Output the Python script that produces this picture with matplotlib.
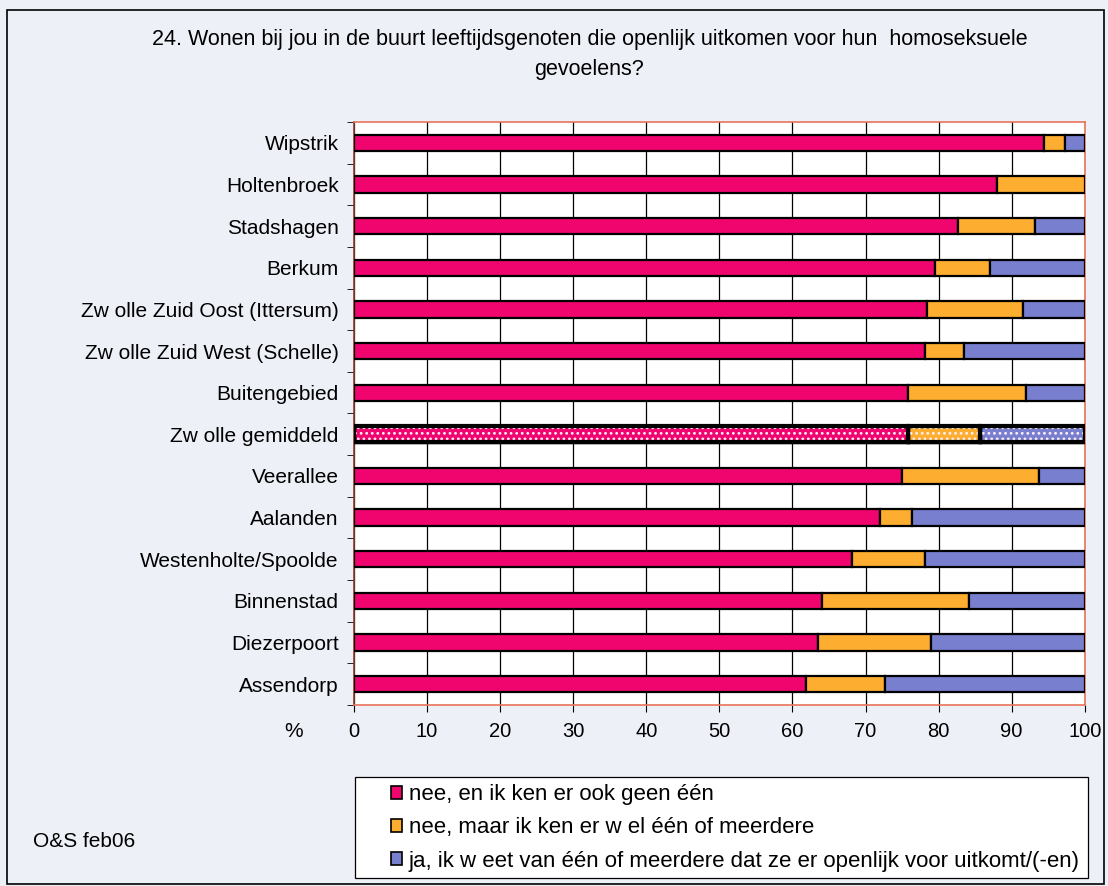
import numpy as np
import matplotlib.pyplot as plt
from matplotlib.patches import Rectangle

plt.rcParams['font.family'] = ['Liberation Sans', 'DejaVu Sans']

# Data (percentages, top to bottom)
areas = ['Wipstrik', 'Holtenbroek', 'Stadshagen', 'Berkum',
         'Zw olle Zuid Oost (Ittersum)', 'Zw olle Zuid West (Schelle)',
         'Buitengebied', 'Zw olle gemiddeld', 'Veerallee', 'Aalanden',
         'Westenholte/Spoolde', 'Binnenstad', 'Diezerpoort', 'Assendorp']
nee_geen = [94.4, 88.0, 82.7, 79.5, 78.4, 78.1, 75.8, 75.8, 75.0, 72.0, 68.2, 64.1, 63.5, 61.9]
nee_wel = [2.9, 12.0, 10.5, 7.6, 13.2, 5.4, 16.2, 9.9, 18.7, 4.4, 10.0, 20.1, 15.4, 10.7]
ja = [2.7, 0.0, 6.8, 12.9, 8.4, 16.5, 8.0, 14.3, 6.3, 23.6, 21.8, 15.8, 21.1, 27.4]
series_labels = ['nee, en ik ken er ook geen één',
                 'nee, maar ik ken er w el één of meerdere',
                 'ja, ik w eet van één of meerdere dat ze er openlijk voor uitkomt/(-en)']
colors = ['#F0046E', '#FDAD2F', '#787FCF']
highlight = 'Zw olle gemiddeld'

bg = '#EEF0F8'
fig = plt.figure(figsize=(11.08, 8.86), dpi=100, facecolor=bg)
fig.patches.append(Rectangle((0.0063, 0.002), 0.99, 0.9867, transform=fig.transFigure,
                             fill=False, edgecolor='black', linewidth=1.2))

ax = fig.add_axes([0.3195, 0.2043, 0.6595, 0.658])
ax.set_facecolor('white')

y = np.arange(len(areas))
h = 0.39
left = np.zeros(len(areas))
plt.rcParams['hatch.linewidth'] = 1.2
for vals, col in zip([nee_geen, nee_wel, ja], colors):
    vals = np.array(vals)
    for i in range(len(areas)):
        if vals[i] <= 0:
            continue
        if areas[i] == highlight:
            ax.barh(y[i], vals[i], left=left[i], height=h, color=col,
                    edgecolor='black', linewidth=2.5, zorder=3)
            ax.barh(y[i], vals[i], left=left[i], height=h, fill=False,
                    hatch='...', edgecolor='#FFF0F6', linewidth=0, zorder=3)
            ax.barh(y[i], vals[i], left=left[i], height=h, fill=False,
                    edgecolor='black', linewidth=3, zorder=4)
        else:
            ax.barh(y[i], vals[i], left=left[i], height=h, color=col,
                    edgecolor='black', linewidth=1.6, zorder=3)
    left += vals

ax.set_xlim(0, 100)
ax.set_ylim(len(areas) - 0.5, -0.5)
ax.set_xticks(np.arange(0, 101, 10))
ax.set_xticklabels([str(v) for v in range(0, 101, 10)], fontsize=14.5)
ax.set_yticks(y)
ax.set_yticklabels(areas, fontsize=15)
ax.tick_params(axis='y', length=0, pad=11)
ax.set_yticks(np.arange(-0.5, len(areas)), minor=True)
ax.tick_params(axis='y', which='minor', length=5, color='black')
ax.tick_params(axis='x', length=5, pad=7)
ax.grid(axis='x', color='black', linewidth=0.9, zorder=0)
for s in ax.spines.values():
    s.set_color('#E8735A')
    s.set_linewidth(1.2)
ax.spines['left'].set_color('#8B3A2A')

fig.text(0.265, 0.174, '%', fontsize=15, ha='center', va='center')

fig.text(0.532, 0.955, '24. Wonen bij jou in de buurt leeftijdsgenoten die openlijk uitkomen voor hun  homoseksuele',
         fontsize=15.5, ha='center', va='center')
fig.text(0.532, 0.921, 'gevoelens?', fontsize=15.5, ha='center', va='center')

# legend box
fig.patches.append(Rectangle((0.3204, 0.009), 0.6615, 0.114, transform=fig.transFigure,
                             facecolor='white', edgecolor='black', linewidth=0.9))
handles = [Rectangle((0, 0), 1, 1, facecolor=c, edgecolor='black', linewidth=1.2) for c in colors]
fig.legend(handles, series_labels, loc='upper left', bbox_to_anchor=(0.337, 0.135),
           frameon=False, fontsize=16, handlelength=0.5, handleheight=0.5,
           handletextpad=0.3, labelspacing=0.55, borderpad=0.3)

fig.text(0.03, 0.05, 'O&S feb06', fontsize=15, ha='left', va='center')

fig.savefig('out.png', dpi=100, facecolor=bg)
